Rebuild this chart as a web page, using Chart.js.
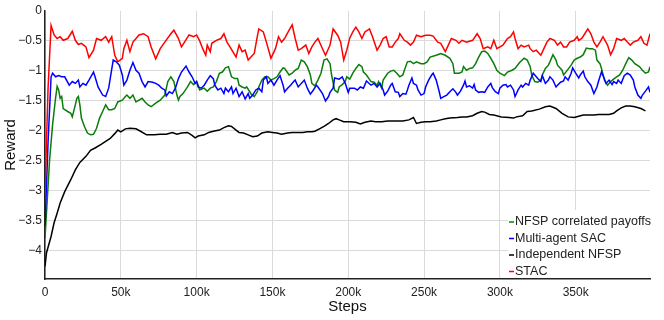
<!DOCTYPE html>
<html>
<head>
<meta charset="utf-8">
<script src="https://cdn.jsdelivr.net/npm/chart.js@4.4.1/dist/chart.umd.min.js"></script>
<style>
  html, body { margin: 0; padding: 0; background: #fff; }
  #wrap { width: 664px; height: 320px; }
</style>
</head>
<body>
<div id="wrap"><canvas id="chart" width="664" height="320"></canvas></div>
<script>
// steps are in thousands
const nfspCorrSteps = [0,3,5,7,8,9,10,11,12,15,17,18,20,21,22,23,24,26,28,30,32,34,36,38,40,42,44,46,48,51,53,54,56,58,60,62,64,66,68,70,73,76,79,81,83,85,87,88,89,91,94,96,98,100,101,102,105,107,109,111,113,115,117,119,121,123,125,127,128,130,132,133,135,136,138,140,141,143,145,147,149,151,153,155,157,158,161,163,165,167,169,171,173,175,176,178,180,182,184,186,188,189,191,193,194,196,198,199,201,203,205,207,209,210,212,215,217,219,220,222,223,226,228,230,232,234,236,237,239,241,243,245,248,250,252,254,258,261,264,267,269,270,273,275,276,278,280,282,284,286,288,290,292,294,296,298,300,303,305,308,310,313,316,318,320,321,323,325,327,328,330,332,333,335,337,338,341,342,344,347,349,351,353,355,357,359,361,363,364,366,367,369,371,373,375,377,379,381,383,385,387,389,392,394,396,398,399];
const nfspCorrReward = [-3.8,-2.5,-1.9,-1.45,-1.26,-1.32,-1.46,-1.43,-1.63,-1.68,-1.71,-1.77,-1.57,-1.46,-1.43,-1.57,-1.79,-1.93,-2.04,-2.07,-2.06,-1.96,-1.79,-1.68,-1.57,-1.65,-1.65,-1.63,-1.52,-1.49,-1.43,-1.405,-1.46,-1.405,-1.52,-1.49,-1.46,-1.52,-1.57,-1.60,-1.54,-1.49,-1.405,-1.18,-1.10,-1.18,-1.405,-1.49,-1.43,-1.38,-1.27,-1.18,-1.23,-1.18,-1.24,-1.32,-1.29,-1.34,-1.29,-1.27,-1.18,-1.04,-1.02,-0.95,-0.93,-1.10,-1.13,-1.13,-1.24,-1.27,-1.29,-1.27,-1.35,-1.39,-1.43,-1.35,-1.27,-1.155,-1.10,-1.10,-1.155,-1.13,-1.10,-1.02,-0.95,-0.96,-1.07,-1.04,-0.99,-0.96,-0.82,-0.85,-0.93,-1.07,-1.21,-1.25,-1.155,-1.04,-0.82,-0.80,-0.88,-1.07,-1.32,-1.36,-1.27,-1.23,-1.18,-1.10,-1.14,-1.04,-0.96,-0.895,-0.93,-1.02,-1.07,-1.18,-1.19,-1.24,-1.18,-1.29,-1.155,-1.04,-1.005,-0.99,-1.04,-1.10,-1.07,-0.99,-0.85,-0.84,-0.88,-0.85,-0.88,-0.88,-0.85,-0.77,-0.74,-0.71,-0.74,-0.79,-0.88,-1.04,-1.04,-1.02,-0.93,-0.99,-0.96,-0.95,-0.88,-0.77,-0.68,-0.67,-0.71,-0.79,-0.88,-0.99,-1.04,-1.08,-1.02,-0.99,-0.96,-0.86,-0.79,-0.82,-0.93,-1.07,-1.18,-1.19,-1.155,-1.07,-0.96,-0.905,-0.85,-0.73,-0.82,-0.905,-0.99,-1.07,-1.005,-0.905,-0.82,-0.79,-0.77,-0.73,-0.62,-0.63,-0.63,-0.655,-0.82,-0.88,-0.96,-1.155,-1.24,-1.18,-1.14,-1.10,-1.07,-0.99,-0.88,-0.78,-0.82,-0.88,-0.93,-0.99,-1.04,-1.02,-0.93];

const sacSteps = [0,2,4,5,7,9,11,13,16,18,20,22,23,25,27,29,32,33,35,38,40,42,43,45,47,49,51,52,54,56,58,60,62,64,66,68,71,73,75,77,79,80,82,84,86,88,90,93,95,97,99,100,101,103,105,107,109,111,112,114,116,118,119,121,123,124,126,128,130,132,134,135,137,139,141,143,144,146,147,149,151,153,155,157,158,160,162,164,165,167,169,171,173,175,177,179,180,183,185,187,188,190,191,194,196,198,200,201,204,206,208,210,212,215,217,219,221,223,224,226,228,229,231,233,234,236,238,239,240,242,243,245,246,248,250,251,253,255,256,258,260,261,263,265,267,269,271,272,274,276,277,278,280,282,283,284,286,288,290,292,294,295,297,299,300,302,304,305,307,309,310,312,314,315,317,319,320,322,323,325,327,328,330,332,333,335,337,338,340,342,343,345,347,348,350,352,353,355,356,358,360,362,364,365,367,369,370,372,374,375,377,378,380,382,384,386,388,389,391,393,394,396,398,399];
const sacReward = [-3.6,-2.2,-1.10,-1.04,-1.10,-1.08,-1.10,-1.10,-1.24,-1.18,-1.21,-1.155,-1.27,-1.21,-1.24,-1.155,-1.02,-1.10,-1.27,-1.405,-1.43,-1.29,-1.13,-0.82,-0.85,-0.905,-1.07,-1.24,-1.155,-0.99,-0.86,-0.99,-1.04,-1.18,-1.27,-1.18,-1.19,-1.21,-1.24,-1.29,-1.32,-1.42,-1.35,-1.38,-1.29,-1.13,-1.02,-0.92,-1.02,-1.10,-1.21,-1.18,-1.27,-1.29,-1.24,-1.155,-1.08,-1.13,-1.24,-1.32,-1.29,-1.38,-1.29,-1.35,-1.27,-1.38,-1.29,-1.43,-1.35,-1.47,-1.38,-1.46,-1.405,-1.32,-1.29,-1.35,-1.155,-1.10,-1.21,-1.155,-1.24,-1.155,-1.08,-1.24,-1.35,-1.29,-1.24,-1.18,-1.155,-1.27,-1.21,-1.155,-1.29,-1.39,-1.32,-1.24,-1.27,-1.38,-1.505,-1.43,-1.36,-1.29,-1.12,-1.14,-1.10,-1.21,-1.36,-1.29,-1.29,-1.32,-1.27,-1.29,-1.17,-1.24,-1.21,-1.27,-1.21,-1.32,-1.405,-1.34,-1.24,-1.21,-1.35,-1.36,-1.43,-1.38,-1.39,-1.32,-1.24,-1.12,-1.21,-1.24,-1.32,-1.405,-1.38,-1.27,-1.155,-1.07,-1.04,-1.155,-1.35,-1.46,-1.43,-1.405,-1.35,-1.30,-1.36,-1.405,-1.34,-1.24,-1.17,-1.27,-1.25,-1.29,-1.23,-1.32,-1.36,-1.35,-1.36,-1.27,-1.21,-1.28,-1.35,-1.38,-1.29,-1.24,-1.23,-1.27,-1.24,-1.32,-1.43,-1.32,-1.24,-1.27,-1.21,-1.24,-1.155,-1.04,-1.07,-1.13,-1.18,-1.08,-1.21,-1.155,-1.10,-1.155,-1.27,-1.24,-1.19,-1.17,-1.10,-1.155,-1.04,-0.95,-1.04,-1.12,-1.07,-1.005,-1.10,-1.18,-1.24,-1.38,-1.27,-1.18,-1.02,-1.14,-1.21,-1.155,-1.23,-1.18,-1.21,-1.155,-1.21,-1.08,-1.04,-1.07,-1.155,-1.27,-1.405,-1.46,-1.405,-1.34,-1.27,-1.36];

const indepSteps = [0,1,4,6,8,10,13,17,20,23,27,30,33,37,40,43,46,48,50,53,56,60,63,67,72,76,80,84,87,90,94,97,99,101,105,108,111,115,118,121,123,126,128,131,134,137,140,143,147,150,153,156,160,163,166,170,173,176,178,181,184,187,190,192,194,197,201,205,208,211,215,218,222,226,231,236,240,243,245,248,251,254,258,261,264,267,272,275,278,282,285,288,290,293,296,301,306,309,311,315,318,321,326,330,333,337,341,345,349,352,355,359,362,365,369,372,375,377,380,383,386,389,393,396];
const indepReward = [-4.27,-4.04,-3.77,-3.54,-3.38,-3.21,-3.02,-2.82,-2.655,-2.53,-2.43,-2.33,-2.29,-2.23,-2.18,-2.13,-2.05,-1.99,-2.02,-1.97,-1.96,-1.97,-2.01,-2.07,-2.07,-2.06,-2.06,-2.03,-2.06,-2.04,-2.03,-2.08,-2.12,-2.09,-2.07,-2.03,-2.01,-1.99,-1.95,-1.92,-1.93,-1.99,-2.03,-2.04,-2.07,-2.10,-2.09,-2.04,-2.02,-2.03,-2.04,-2.06,-2.04,-2.03,-2.03,-2.03,-2.02,-2.02,-2.01,-1.97,-1.93,-1.88,-1.82,-1.80,-1.82,-1.85,-1.85,-1.86,-1.89,-1.86,-1.84,-1.85,-1.85,-1.84,-1.84,-1.84,-1.82,-1.78,-1.88,-1.86,-1.85,-1.85,-1.84,-1.82,-1.80,-1.79,-1.78,-1.77,-1.77,-1.75,-1.71,-1.68,-1.69,-1.73,-1.74,-1.77,-1.78,-1.79,-1.77,-1.75,-1.68,-1.67,-1.64,-1.60,-1.59,-1.63,-1.71,-1.77,-1.78,-1.76,-1.74,-1.74,-1.74,-1.73,-1.73,-1.73,-1.71,-1.67,-1.62,-1.59,-1.59,-1.60,-1.63,-1.67];

const stacSteps = [0,2,4,6,8,10,12,15,18,20,22,24,27,29,32,34,37,40,42,44,46,48,51,52,54,56,58,62,65,68,70,73,76,79,83,85,88,90,92,95,98,100,102,104,106,107,109,110,113,116,118,120,122,126,128,130,132,134,138,140,141,144,146,149,152,154,156,158,161,163,165,167,169,172,174,176,178,180,183,185,188,190,193,195,197,199,201,203,205,207,209,211,214,216,219,221,223,225,227,229,231,233,234,237,239,241,243,245,248,251,254,256,259,261,264,266,268,271,273,275,278,282,285,287,289,292,294,296,298,300,302,305,307,309,310,312,314,316,319,320,322,324,327,329,331,333,336,338,340,342,344,346,349,351,352,354,356,358,360,362,364,366,368,371,373,375,377,380,382,384,386,388,391,393,395,397,399];
const stacReward = [-3.05,-1.3,-0.24,-0.40,-0.46,-0.43,-0.49,-0.46,-0.34,-0.49,-0.56,-0.54,-0.60,-0.78,-0.655,-0.46,-0.49,-0.43,-0.52,-0.43,-0.74,-0.85,-0.79,-0.63,-0.49,-0.68,-0.52,-0.40,-0.38,-0.43,-0.60,-0.80,-0.63,-0.52,-0.38,-0.32,-0.46,-0.60,-0.52,-0.40,-0.43,-0.40,-0.50,-0.63,-0.74,-0.57,-0.68,-0.54,-0.49,-0.46,-0.38,-0.52,-0.60,-0.77,-0.57,-0.68,-0.655,-0.82,-0.71,-0.43,-0.30,-0.35,-0.52,-0.79,-0.63,-0.43,-0.52,-0.46,-0.32,-0.23,-0.46,-0.655,-0.63,-0.57,-0.71,-0.60,-0.52,-0.46,-0.63,-0.74,-0.57,-0.30,-0.405,-0.52,-0.82,-0.655,-0.45,-0.35,-0.27,-0.35,-0.46,-0.35,-0.30,-0.43,-0.655,-0.57,-0.46,-0.43,-0.60,-0.60,-0.52,-0.46,-0.38,-0.49,-0.52,-0.57,-0.52,-0.405,-0.43,-0.405,-0.405,-0.42,-0.52,-0.54,-0.68,-0.57,-0.46,-0.49,-0.54,-0.49,-0.52,-0.49,-0.38,-0.46,-0.63,-0.60,-0.63,-0.49,-0.63,-0.60,-0.57,-0.46,-0.43,-0.35,-0.46,-0.63,-0.57,-0.60,-0.57,-0.63,-0.68,-0.655,-0.74,-0.63,-0.52,-0.46,-0.49,-0.57,-0.52,-0.60,-0.60,-0.52,-0.49,-0.43,-0.49,-0.46,-0.38,-0.30,-0.38,-0.52,-0.60,-0.52,-0.43,-0.57,-0.73,-0.63,-0.46,-0.49,-0.46,-0.52,-0.57,-0.52,-0.49,-0.43,-0.54,-0.57,-0.38];

const seriesNames = ['NFSP correlated payoffs', 'Multi-agent SAC', 'Independent NFSP', 'STAC'];
const seriesColors = ['#0a7d0a', '#0000ff', '#000000', '#ff0000'];
const xTickValues = [0, 50, 100, 150, 200, 250, 300, 350];
const yTickValues = [0, -0.5, -1, -1.5, -2, -2.5, -3, -3.5, -4];

const FONT = '"Liberation Sans", Arial, sans-serif';
Chart.defaults.font.family = FONT;
Chart.defaults.color = '#222';

const toPoints = (xs, ys) => xs.map((x, i) => ({ x: x, y: ys[i] }));
const allSteps = [nfspCorrSteps, sacSteps, indepSteps, stacSteps];
const allReward = [nfspCorrReward, sacReward, indepReward, stacReward];
const drawOrder = [3, 2, 1, 0]; // STAC on top

const datasets = seriesNames.map((name, i) => ({
  label: name,
  data: toPoints(allSteps[i], allReward[i]),
  borderColor: seriesColors[i],
  borderWidth: 1.5,
  pointRadius: 0,
  tension: 0,
  fill: false,
  order: drawOrder[i]
}));

// legend sits inside the plot, lower right, on a white box
const insideLegend = {
  id: 'insideLegend',
  afterDraw(chart) {
    const { ctx, chartArea } = chart;
    const x0 = chartArea.right - 142;
    const y0 = chartArea.bottom - 69;
    ctx.save();
    ctx.fillStyle = '#fff';
    ctx.fillRect(x0, y0, chartArea.right - x0 + 2, chartArea.bottom - y0 - 1);
    ctx.font = '12.5px ' + FONT;
    ctx.textBaseline = 'middle';
    ctx.textAlign = 'left';
    seriesNames.forEach((name, i) => {
      const y = y0 + 12 + i * 16.5;
      ctx.strokeStyle = seriesColors[i];
      ctx.lineWidth = 1.5;
      ctx.beginPath();
      ctx.moveTo(x0 + 1, y);
      ctx.lineTo(x0 + 6, y);
      ctx.stroke();
      ctx.fillStyle = '#222';
      ctx.fillText(name, x0 + 7, y);
    });
    ctx.restore();
  }
};

new Chart(document.getElementById('chart'), {
  type: 'line',
  data: { datasets: datasets },
  plugins: [insideLegend],
  options: {
    responsive: false,
    animation: false,
    devicePixelRatio: 1,
    layout: { padding: { top: 11, right: 14, left: 0, bottom: 0 } },
    plugins: { legend: { display: false }, tooltip: { enabled: false } },
    scales: {
      x: {
        type: 'linear',
        min: 0,
        max: 399,
        afterFit: (s) => { s.height = 41; },
        afterBuildTicks: (s) => { s.ticks = xTickValues.map((v) => ({ value: v })); },
        grid: { color: '#dadada', lineWidth: 1, drawTicks: false },
        border: { color: '#222', width: 1.5 },
        ticks: {
          padding: 6,
          maxRotation: 0,
          autoSkip: false,
          font: { size: 12 },
          color: '#222',
          callback: (v) => (v === 0 ? '0' : v + 'k')
        },
        title: { display: true, text: 'Steps', font: { size: 15 }, color: '#111', padding: { top: 0, bottom: 4.5 } }
      },
      y: {
        min: -4.48,
        max: 0,
        afterFit: (s) => { s.width = 45; },
        afterBuildTicks: (s) => { s.ticks = yTickValues.map((v) => ({ value: v })); },
        grid: {
          color: (c) => (c.tick && c.tick.value === 0 ? 'rgba(0,0,0,0)' : '#dadada'),
          lineWidth: 1,
          drawTicks: false
        },
        border: { color: '#222', width: 1.5 },
        ticks: {
          padding: 3,
          autoSkip: false,
          font: { size: 12 },
          color: '#222',
          callback: (v) => (v === 0 ? '0' : '\u2212' + Math.abs(v))
        },
        title: { display: true, text: 'Reward', font: { size: 15 }, color: '#111', padding: { top: 1.5, bottom: 0 } }
      }
    }
  }
});
</script>
</body>
</html>
